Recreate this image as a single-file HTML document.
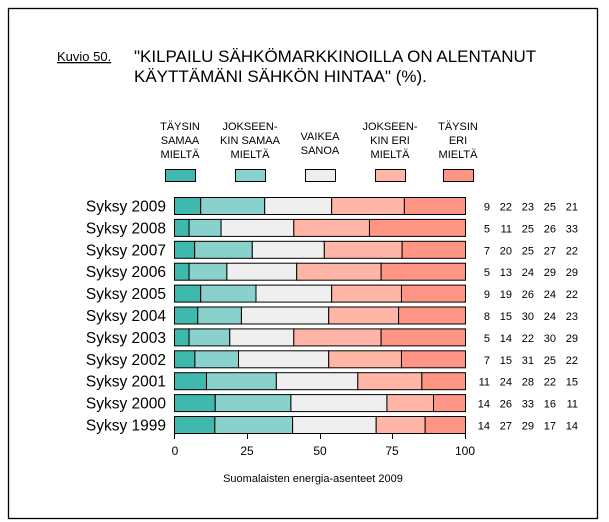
<!DOCTYPE html>
<html><head><meta charset="utf-8"><style>
body{margin:0;background:#fff;}
svg{display:block;font-family:"Liberation Sans",Arial,sans-serif;}
</style></head><body>
<svg id="s" width="609" height="522" xmlns="http://www.w3.org/2000/svg">
<rect x="8.5" y="8.5" width="589" height="510" fill="#fff" stroke="#000" stroke-width="1.3"/>
<text x="57" y="61" font-size="13" text-decoration="underline">Kuvio 50.</text>
<text x="134" y="62" font-size="17">"KILPAILU SÄHKÖMARKKINOILLA ON ALENTANUT</text>
<text x="134" y="82" font-size="17">KÄYTTÄMÄNI SÄHKÖN HINTAA" (%).</text>
<g font-size="11" text-anchor="middle">
<text x="180" y="130">TÄYSIN</text><text x="180" y="144">SAMAA</text><text x="180" y="158">MIELTÄ</text>
<text x="250" y="130">JOKSEEN-</text><text x="250" y="144">KIN SAMAA</text><text x="250" y="158">MIELTÄ</text>
<text x="320" y="140">VAIKEA</text><text x="320" y="154">SANOA</text>
<text x="390" y="130">JOKSEEN-</text><text x="390" y="144">KIN ERI</text><text x="390" y="158">MIELTÄ</text>
<text x="458" y="130">TÄYSIN</text><text x="458" y="144">ERI</text><text x="458" y="158">MIELTÄ</text>
</g>
<g stroke="#000" stroke-width="1">
<rect x="165.5" y="169.5" width="30" height="12" fill="#3fb8ad"/>
<rect x="235.5" y="169.5" width="30" height="12" fill="#88d1cc"/>
<rect x="305.5" y="169.5" width="30" height="12" fill="#efefef"/>
<rect x="375.5" y="169.5" width="30" height="12" fill="#ffb6a6"/>
<rect x="443.5" y="169.5" width="30" height="12" fill="#ff9585"/>
</g>
<g id="bars"></g>
<g stroke="#000" stroke-width="1">
<line x1="174.5" y1="433.5" x2="465.5" y2="433.5"/>
<line x1="174.5" y1="433" x2="174.5" y2="439"/>
<line x1="247.5" y1="433" x2="247.5" y2="439"/>
<line x1="320.5" y1="433" x2="320.5" y2="439"/>
<line x1="392.5" y1="433" x2="392.5" y2="439"/>
<line x1="465.5" y1="433" x2="465.5" y2="439"/>
</g>
<g font-size="12" text-anchor="middle">
<text x="175" y="455">0</text><text x="247" y="455">25</text><text x="320" y="455">50</text><text x="392" y="455">75</text><text x="465" y="455">100</text>
</g>
<text x="313" y="482" font-size="11" text-anchor="middle">Suomalaisten energia-asenteet 2009</text>
</svg>
<script>
var d=[["2009",[9,22,23,25,21]],["2008",[5,11,25,26,33]],["2007",[7,20,25,27,22]],["2006",[5,13,24,29,29]],["2005",[9,19,26,24,22]],["2004",[8,15,30,24,23]],["2003",[5,14,22,30,29]],["2002",[7,15,31,25,22]],["2001",[11,24,28,22,15]],["2000",[14,26,33,16,11]],["1999",[14,27,29,17,14]]];
var c=["#3fb8ad","#88d1cc","#efefef","#ffb6a6","#ff9585"];
var nx=[490,512,534,556,578];
var h="";
d.forEach(function(r,i){var y=197.5+i*21.9;var s=r[1].reduce(function(a,b){return a+b},0);var x=174.5;
h+='<text x="166" y="'+(y+14)+'" font-size="15.5" text-anchor="end">Syksy '+r[0]+'</text>';
r[1].forEach(function(v,j){var w=v/s*291;h+='<rect x="'+x+'" y="'+y+'" width="'+w+'" height="17" fill="'+c[j]+'" stroke="#000" stroke-width="1"/>';x+=w;
h+='<text x="'+nx[j]+'" y="'+(y+13)+'" font-size="11" text-anchor="end">'+v+'</text>';});});
document.getElementById("bars").innerHTML=h;
</script>
</body></html>
